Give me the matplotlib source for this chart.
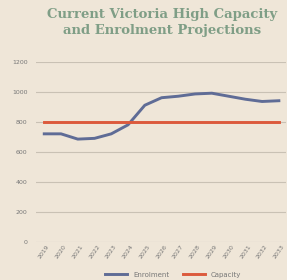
import matplotlib.pyplot as plt
import numpy as np

years = [str(y) for y in range(2019, 2034)]
enrolment = [720, 720, 685, 690, 720, 780, 910, 960, 970, 985, 990, 970, 950, 935, 940]
capacity = [800] * 15

bg = '#efe6d8'
fig = plt.figure(figsize=(2.87, 2.80), dpi=100, facecolor=bg)
ax = fig.add_axes([0.125, 0.135, 0.87, 0.645], facecolor=bg)

x = np.arange(len(years))
ax.plot(x, enrolment, color='#5f6c96', lw=2.1, label='Enrolment')
ax.plot(x, capacity, color='#dc5a3c', lw=2.1, label='Capacity')

ax.set_ylim(0, 1200)
ax.set_yticks(range(0, 1201, 200))
ax.set_xlim(-0.5, len(years) - 0.6)
ax.set_xticks(x)
ax.set_xticklabels(years, rotation=55, fontsize=4.5, color='#777777')
ax.tick_params(axis='y', labelsize=4.5, colors='#777777', length=0, pad=6)
ax.tick_params(axis='x', length=0, pad=1)
ax.grid(axis='y', color='#c9c1b4', lw=0.8)
ax.set_axisbelow(True)
for s in ax.spines.values():
    s.set_visible(False)

fig.text(0.565, 0.97, 'Current Victoria High Capacity\nand Enrolment Projections',
         ha='center', va='top', fontsize=9.5, fontweight='bold',
         family='DejaVu Serif', color='#7f9e86', linespacing=1.3)

ax.legend(loc='upper center', bbox_to_anchor=(0.55, -0.13), ncol=2, frameon=False,
          fontsize=5, labelcolor='#777777', handlelength=3.2, columnspacing=2)

fig.savefig('out.png', dpi=100, facecolor=bg)
